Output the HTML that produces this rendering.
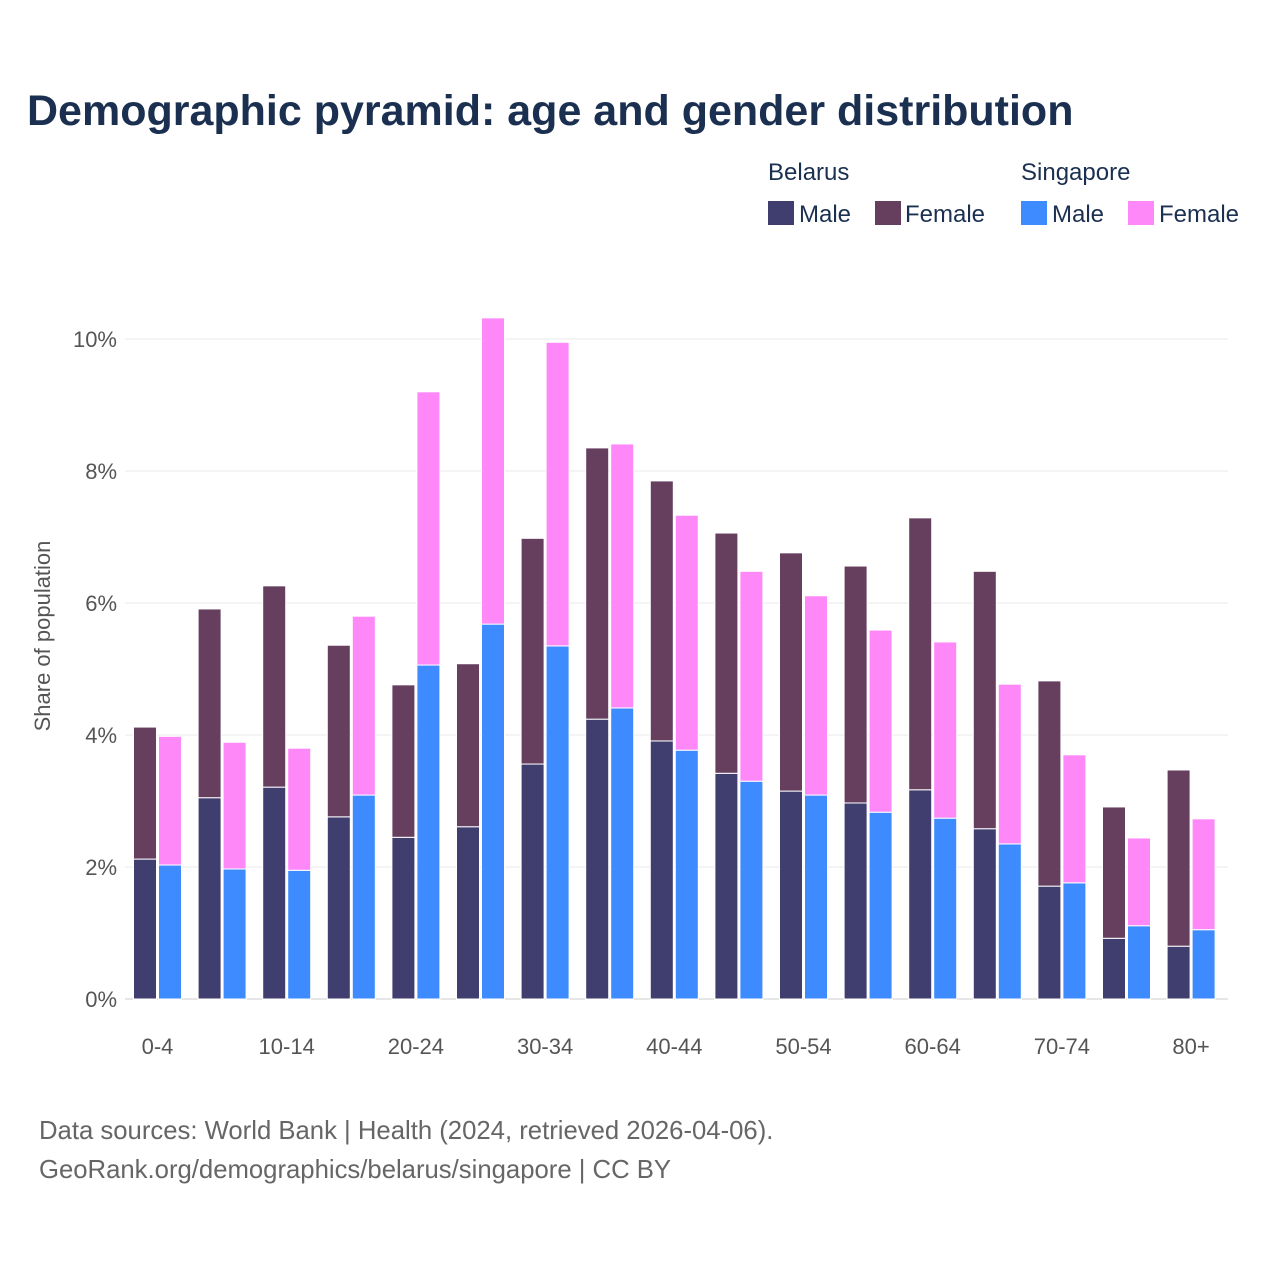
<!DOCTYPE html>
<html><head><meta charset="utf-8"><style>
body{margin:0;background:#fff;font-family:"Liberation Sans",sans-serif;}
</style></head><body>
<svg width="1280" height="1280" xmlns="http://www.w3.org/2000/svg" id="svg">
<rect width="1280" height="1280" fill="#fff"/>
<text x="27" y="125" font-size="43" font-weight="bold" fill="#1b3050">Demographic pyramid: age and gender distribution</text>
<g font-size="24" fill="#1b3050">
<text x="768" y="180">Belarus</text>
<text x="1021" y="180">Singapore</text>
<rect x="768" y="201" width="26" height="24" fill="#403d6f"/>
<text x="799" y="222">Male</text>
<rect x="875" y="201" width="26" height="24" fill="#663f5f"/>
<text x="905" y="222">Female</text>
<rect x="1021" y="201" width="26" height="24" fill="#3e8bff"/>
<text x="1052" y="222">Male</text>
<rect x="1128" y="201" width="26" height="24" fill="#ff88f8"/>
<text x="1159" y="222">Female</text>
</g>
<text transform="translate(50,636) rotate(-90)" text-anchor="middle" font-size="22" fill="#555">Share of population</text>
<g id="grid"></g><g id="bars"></g><g id="xt"></g>
<text x="39" y="1139" font-size="25.7" fill="#666">Data sources: World Bank | Health (2024, retrieved 2026-04-06).</text>
<text x="39" y="1178" font-size="25.7" fill="#666">GeoRank.org/demographics/belarus/singapore | CC BY</text>
</svg>
<script>
const categories=["0-4","5-9","10-14","15-19","20-24","25-29","30-34","35-39","40-44","45-49","50-54","55-59","60-64","65-69","70-74","75-79","80+"];
const belarusMale=[2.12,3.05,3.21,2.76,2.45,2.61,3.56,4.24,3.91,3.42,3.15,2.97,3.17,2.58,1.71,0.92,0.80];
const belarusFemale=[2.00,2.86,3.05,2.60,2.31,2.47,3.42,4.11,3.94,3.64,3.61,3.59,4.12,3.90,3.11,1.99,2.67];
const singaporeMale=[2.03,1.97,1.95,3.09,5.06,5.68,5.35,4.41,3.77,3.30,3.09,2.83,2.74,2.35,1.76,1.11,1.05];
const singaporeFemale=[1.95,1.92,1.85,2.71,4.14,4.64,4.60,4.00,3.56,3.18,3.02,2.76,2.67,2.42,1.94,1.33,1.68];
const yTicks=[0,2,4,6,8,10];
const NS="http://www.w3.org/2000/svg";
const y=v=>999-v*66;
const xc=i=>157.5+i*64.6;
function mk(t,a,p){const e=document.createElementNS(NS,t);for(const k in a)e.setAttribute(k,a[k]);p.appendChild(e);return e;}
const grid=document.getElementById('grid'),bars=document.getElementById('bars'),xt=document.getElementById('xt');
yTicks.forEach(v=>{
 const l=mk('line',{x1:125,x2:1228,y1:y(v),y2:y(v),stroke:v===0?'#ccc':'#e8e8e8','stroke-width':1},grid);
 
 
 const t=mk('text',{x:117,y:y(v)+8,'text-anchor':'end','font-size':22,fill:'#555'},grid);
 t.textContent=v+'%';
 
 
});
function bar(x,v0,v1,c){const r=mk('rect',{x:x,y:y(v1),width:23,height:y(v0)-y(v1),fill:c,stroke:'#fff','stroke-width':1},bars);return r;}
categories.forEach((c,i)=>{
 const x=xc(i);
 let r=bar(x-24,0,belarusMale[i],'#403d6f');
 
 
 r=bar(x-24,belarusMale[i],belarusMale[i]+belarusFemale[i],'#663f5f');
 
 
 r=bar(x+1,0,singaporeMale[i],'#3e8bff');
 
 
 r=bar(x+1,singaporeMale[i],singaporeMale[i]+singaporeFemale[i],'#ff88f8');
 
 
 if(i%2===0){
  const t=mk('text',{x:x,y:1054,'text-anchor':'middle','font-size':22,fill:'#555'},xt);
  t.textContent=c;
  
  
 }
});
</script>
</body></html>
